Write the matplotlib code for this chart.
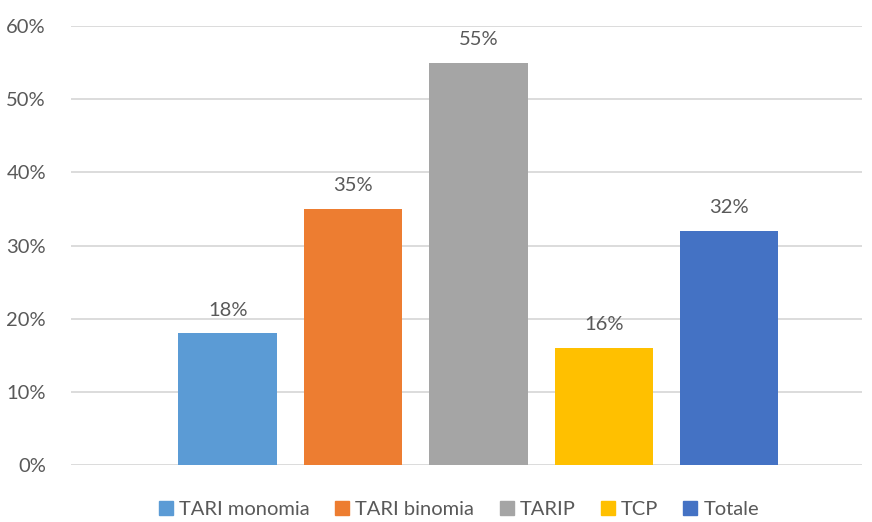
import matplotlib.pyplot as plt
from matplotlib.lines import Line2D

# data
labels = ['TARI monomia', 'TARI binomia', 'TARIP', 'TCP', 'Totale']
values = [18, 35, 55, 16, 32]
colors = ['#5B9BD5', '#ED7D31', '#A5A5A5', '#FFC000', '#4472C4']
yticks = [0, 10, 20, 30, 40, 50, 60]

plt.rcParams['font.family'] = ['Lato', 'DejaVu Sans']
text_color = '#595959'

fig = plt.figure(figsize=(8.72, 5.22), dpi=100)
ax = fig.add_axes([0.0814, 0.109, 0.9071, 0.841])

x = list(range(len(values)))
ax.bar(x, values, width=0.785, color=colors, zorder=3)
for xi, v in zip(x, values):
    ax.text(xi, v + 2.0, f'{v}%', ha='center', va='bottom', fontsize=14.5, color=text_color)

ax.set_xlim(-1.25, 4 + 1.06)
ax.set_ylim(0, 60)
ax.set_yticks(yticks)
ax.set_yticklabels([f'{t}%' for t in yticks], fontsize=14.5, color=text_color)
ax.set_xticks([])
ax.yaxis.grid(True, color='#D9D9D9', linewidth=1.3, zorder=0)
ax.tick_params(axis='y', length=0, pad=18)
for s in ax.spines.values():
    s.set_visible(False)

handles = [Line2D([], [], marker='s', linestyle='none', markersize=9.5,
                  markerfacecolor=c, markeredgecolor=c) for c in colors]
fig.legend(handles, labels, loc='lower center', bbox_to_anchor=(0.522, -0.028), ncol=5,
           frameon=False, fontsize=14.5, labelcolor=text_color, handletextpad=-0.1,
           columnspacing=0.85, handlelength=1.5)

fig.savefig('out.png')
